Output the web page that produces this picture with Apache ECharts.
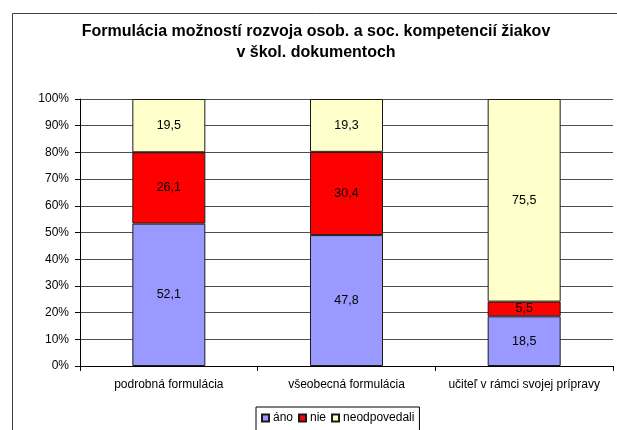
<!DOCTYPE html>
<html>
<head>
<meta charset="utf-8">
<script src="https://cdn.jsdelivr.net/npm/echarts@6/dist/echarts.min.js"></script>
<style>
html,body{margin:0;padding:0;background:#fff;}
#chart{width:617px;height:430px;}
</style>
</head>
<body>
<div id="chart"></div>
<script>
const categories = ['podrobná formulácia', 'všeobecná formulácia', 'učiteľ v rámci svojej prípravy'];
const ano = [52.1, 47.8, 18.5];
const nie = [26.1, 30.4, 5.5];
const neodpovedali = [19.5, 19.3, 75.5];
const yTicks = [0, 10, 20, 30, 40, 50, 60, 70, 80, 90, 100];

const totals = categories.map((c, i) => ano[i] + nie[i] + neodpovedali[i]);
const pct = arr => arr.map((v, i) => v / totals[i] * 100);
const fmt = arr => p => arr[p.dataIndex].toFixed(1).replace('.', ',');

const FONT = 'Liberation Sans, Arial, sans-serif';
const chart = echarts.init(document.getElementById('chart'), null, {renderer: 'canvas'});

function mk(name, raw, color) {
  return {
    name: name,
    type: 'bar',
    stack: 'total',
    barWidth: 73,
    data: pct(raw),
    itemStyle: {color: color, borderColor: '#1a1a1a', borderWidth: 1},
    label: {
      show: true, position: 'inside', formatter: fmt(raw),
      color: '#000', fontFamily: FONT, fontSize: 12.5
    },
    emphasis: {disabled: true}
  };
}

chart.setOption({
  animation: false,
  backgroundColor: '#fff',
  title: {
    text: 'Formulácia možností rozvoja osob. a soc. kompetencií žiakov\nv škol. dokumentoch',
    left: 316, top: 21, padding: 0, textAlign: 'center',
    textStyle: {fontFamily: FONT, fontSize: 16, fontWeight: 'bold', color: '#000', lineHeight: 21}
  },
  graphic: [{
    type: 'rect', left: 10, top: 11, silent: true,
    shape: {x: 0, y: 0, width: 700, height: 500},
    style: {fill: 'none', stroke: '#404040', lineWidth: 1}
  }],
  legend: {
    left: 256, top: 407,
    padding: [5, 5, 8, 5],
    borderColor: '#000', borderWidth: 1,
    itemWidth: 7, itemHeight: 7, itemGap: 5,
    icon: 'rect',
    textStyle: {fontFamily: FONT, fontSize: 12, color: '#000', padding: [0, 0, 0, -1]},
    data: ['áno', 'nie', 'neodpovedali']
  },
  grid: {left: 80, right: 4, top: 99, bottom: 64, containLabel: false},
  xAxis: {
    type: 'category',
    data: categories,
    axisLine: {lineStyle: {color: '#000', width: 1}},
    axisTick: {show: true, length: 5, lineStyle: {color: '#000'}},
    axisLabel: {fontFamily: FONT, fontSize: 12, color: '#000', margin: 13, interval: 0}
  },
  yAxis: {
    type: 'value', min: yTicks[0], max: yTicks[yTicks.length - 1], interval: 10,
    axisLine: {show: true, lineStyle: {color: '#000', width: 1}},
    axisTick: {show: true, length: 5, lineStyle: {color: '#000'}},
    axisLabel: {fontFamily: FONT, fontSize: 12, color: '#000', margin: 11, formatter: '{value}%'},
    splitLine: {show: true, lineStyle: {color: '#4d4d4d', width: 1}}
  },
  series: [
    mk('áno', ano, '#9999FF'),
    mk('nie', nie, '#FF0000'),
    mk('neodpovedali', neodpovedali, '#FFFFCC')
  ]
});
</script>
</body>
</html>
